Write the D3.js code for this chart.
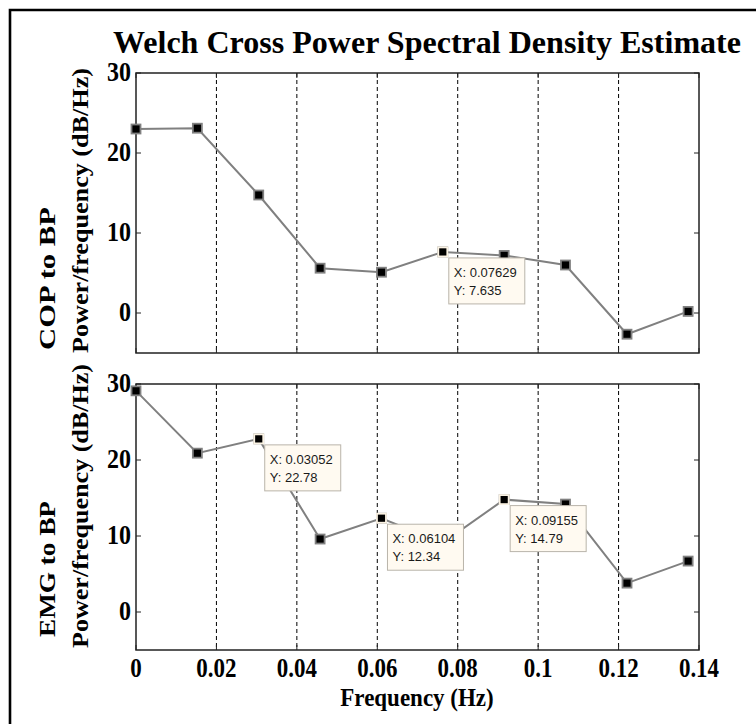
<!DOCTYPE html>
<html>
<head>
<meta charset="utf-8">
<script src="https://cdn.jsdelivr.net/npm/d3@7/dist/d3.min.js"></script>
<style>
  html, body { margin: 0; padding: 0; background: #fff; }
  svg { display: block; }
  .serif { font-family: "Liberation Serif", "Times New Roman", serif; font-weight: bold; fill: #000; }
  .tip { font-family: "Liberation Sans", Arial, sans-serif; font-size: 13px; fill: #1a1a1a; }
</style>
</head>
<body>
<svg id="chart" width="756" height="724"></svg>
<script>
// Frequency bins of the Welch estimate (Hz)
const freqs = [0, 0.01526, 0.03052, 0.04578, 0.06104, 0.07629, 0.09155, 0.1068, 0.1221, 0.1373];
// Cross power spectral density, COP to BP (dB/Hz)
const copToBp = [23.0, 23.1, 14.75, 5.6, 5.1, 7.635, 7.2, 6.0, -2.65, 0.2];
// Cross power spectral density, EMG to BP (dB/Hz)
const emgToBp = [29.1, 20.9, 22.78, 9.6, 12.34, 9.1, 14.79, 14.2, 3.8, 6.7];
// Axis ticks
const xTicks = [0, 0.02, 0.04, 0.06, 0.08, 0.1, 0.12, 0.14];
const xTickLabels = ["0", "0.02", "0.04", "0.06", "0.08", "0.1", "0.12", "0.14"];
const yTicks = [0, 10, 20, 30];
const yTickLabels = ["0", "10", "20", "30"];
// Points carrying a data cursor, per panel
const copTips = [5];
const emgTips = [2, 4, 6];

const svg = d3.select("#chart");

// figure frame
svg.append("path")
  .attr("d", "M10,724V10H756")
  .attr("fill", "none").attr("stroke", "#000").attr("stroke-width", 2.6);

const x = d3.scaleLinear().domain([0, 0.14]).range([136, 699]);

const panels = [
  { values: copToBp, tips: copTips, top: 73, bottom: 353, name: "COP to BP",
    nameStart: 350, nameLen: 143, unitStart: 353, unitLen: 285, showX: false },
  { values: emgToBp, tips: emgTips, top: 384, bottom: 650, name: "EMG to BP",
    nameStart: 637, nameLen: 136, unitStart: 648, unitLen: 284, showX: true }
];

const fmt = d3.format(".4g");

// text stretched vertically, as the figure's raster fonts are
function tallText(parent, tx, ty, size, sy, anchor, str) {
  return parent.append("text")
    .attr("class", "serif")
    .attr("transform", `translate(${tx},${ty}) scale(1,${sy})`)
    .attr("text-anchor", anchor)
    .style("font-size", size + "px")
    .text(str);
}

panels.forEach(p => {
  const y = d3.scaleLinear().domain([-5, 30]).range([p.bottom, p.top]);
  const g = svg.append("g");

  // vertical dashed grid
  g.selectAll("line.grid").data(xTicks.slice(1, -1)).join("line")
    .attr("class", "grid")
    .attr("x1", d => x(d)).attr("x2", d => x(d))
    .attr("y1", p.top).attr("y2", p.bottom)
    .attr("stroke", "#000").attr("stroke-width", 1)
    .attr("stroke-dasharray", "4,3");

  // inward ticks on all four sides
  const tl = 5;
  g.selectAll("line.xt").data(xTicks).join("line")
    .attr("x1", d => x(d)).attr("x2", d => x(d))
    .attr("y1", p.bottom).attr("y2", p.bottom - tl)
    .attr("stroke", "#222");
  g.selectAll("line.xtt").data(xTicks).join("line")
    .attr("x1", d => x(d)).attr("x2", d => x(d))
    .attr("y1", p.top).attr("y2", p.top + tl)
    .attr("stroke", "#222");
  g.selectAll("line.yt").data(yTicks).join("line")
    .attr("x1", 136).attr("x2", 136 + tl)
    .attr("y1", d => y(d)).attr("y2", d => y(d))
    .attr("stroke", "#222");
  g.selectAll("line.ytr").data(yTicks).join("line")
    .attr("x1", 699).attr("x2", 699 - tl)
    .attr("y1", d => y(d)).attr("y2", d => y(d))
    .attr("stroke", "#222");

  // axes box
  g.append("rect")
    .attr("x", 136).attr("y", p.top)
    .attr("width", 699 - 136).attr("height", p.bottom - p.top)
    .attr("fill", "none").attr("stroke", "#222").attr("stroke-width", 1.5);

  // y tick labels
  yTicks.forEach((d, i) => {
    tallText(g, 131, y(d) + 8, 24, 1.15, "end", yTickLabels[i]);
  });

  // x tick labels (bottom panel only)
  if (p.showX) {
    xTicks.forEach((d, i) => {
      tallText(g, x(d), p.bottom + 27, 23, 1.2, "middle", xTickLabels[i]);
    });
  }

  // y axis label, two lines sharing a start point
  const lab = g.append("g")
    .attr("transform", "rotate(-90)");
  lab.append("text").attr("class", "serif")
    .attr("x", -p.nameStart).attr("y", 55)
    .attr("textLength", p.nameLen).attr("lengthAdjust", "spacingAndGlyphs")
    .style("font-size", "23px")
    .text(p.name);
  lab.append("text").attr("class", "serif")
    .attr("x", -p.unitStart).attr("y", 88)
    .attr("textLength", p.unitLen).attr("lengthAdjust", "spacingAndGlyphs")
    .style("font-size", "23px")
    .text("Power/frequency (dB/Hz)");

  // series line
  const line = d3.line().x((d, i) => x(freqs[i])).y(d => y(d));
  g.append("path")
    .datum(p.values)
    .attr("d", line)
    .attr("fill", "none").attr("stroke", "#808080").attr("stroke-width", 2);

  // square markers
  const ms = 9;
  g.selectAll("rect.mk").data(p.values).join("rect")
    .attr("x", (d, i) => x(freqs[i]) - ms / 2)
    .attr("y", d => y(d) - ms / 2)
    .attr("width", ms).attr("height", ms)
    .attr("fill", "#000").attr("stroke", "#808080").attr("stroke-width", 1.8);

  // data cursors
  p.tips.forEach(i => {
    const px = x(freqs[i]), py = y(p.values[i]);
    g.append("rect")
      .attr("x", px - ms / 2).attr("y", py - ms / 2)
      .attr("width", ms).attr("height", ms)
      .attr("fill", "#000").attr("stroke", "#fbf3e4").attr("stroke-width", 1.8);
    const bx = px + 6, by = py + 6;
    g.append("rect")
      .attr("x", bx).attr("y", by)
      .attr("width", 76).attr("height", 46)
      .attr("fill", "#fffaf1").attr("stroke", "#b9b4aa").attr("stroke-width", 1);
    g.append("text").attr("class", "tip")
      .attr("x", bx + 5).attr("y", by + 19)
      .text("X: " + fmt(freqs[i]));
    g.append("text").attr("class", "tip")
      .attr("x", bx + 5).attr("y", by + 37)
      .text("Y: " + fmt(p.values[i]));
  });
});

// title
svg.append("text")
  .attr("class", "serif")
  .attr("x", 427).attr("y", 53)
  .attr("text-anchor", "middle")
  .attr("textLength", 628).attr("lengthAdjust", "spacingAndGlyphs")
  .style("font-size", "32px")
  .text("Welch Cross Power Spectral Density Estimate");

// x axis label
tallText(svg, 417, 706, 23, 1.1, "middle", "Frequency (Hz)");
</script>
</body>
</html>
